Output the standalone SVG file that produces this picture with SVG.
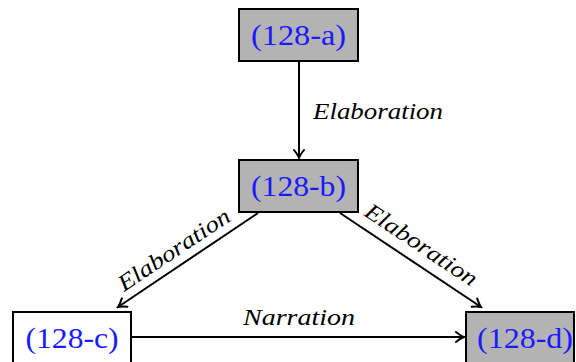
<svg xmlns="http://www.w3.org/2000/svg" width="576" height="362" viewBox="0 0 576 362">
<style>
.box{stroke:#000;stroke-width:2}
.g{fill:#b3b3b3}
.w{fill:#fff}
.nt{font-size:29px;fill:#1a1aff;text-anchor:middle}
.lb{font-style:italic;font-size:23px;fill:#000;text-anchor:middle}
.e{stroke:#000;stroke-width:2;fill:none}
</style>
<defs>
<marker id="ah" viewBox="-10 -6 12 12" refX="0" refY="0" markerWidth="12" markerHeight="12" markerUnits="userSpaceOnUse" orient="auto">
<path d="M-8,-5 Q-3,-1 0,0 Q-3,1 -8,5" fill="none" stroke="#000" stroke-width="2" stroke-linecap="round"/>
</marker>
</defs>
<g font-family="Liberation Serif, DejaVu Serif, serif">
<g id="edges">
<line class="e" x1="299" y1="61" x2="299" y2="158" marker-end="url(#ah)"/>
<line class="e" x1="258" y1="213" x2="118" y2="307" marker-end="url(#ah)"/>
<line class="e" x1="340" y1="213" x2="481" y2="307" marker-end="url(#ah)"/>
<line class="e" x1="131" y1="337" x2="464" y2="337" marker-end="url(#ah)"/>
<text class="lb" x="378" y="119" textLength="130" lengthAdjust="spacingAndGlyphs">Elaboration</text>
<text class="lb" x="299" y="325" textLength="112" lengthAdjust="spacingAndGlyphs">Narration</text>
<text class="lb" transform="translate(178,256) rotate(-33.7)" textLength="130" lengthAdjust="spacingAndGlyphs">Elaboration</text>
<text class="lb" transform="translate(417,251) rotate(33.7)" textLength="130" lengthAdjust="spacingAndGlyphs">Elaboration</text>
</g>
<g id="n128a">
<rect class="box g" x="239" y="9" width="119" height="52"/>
<text class="nt" x="298.5" y="45" textLength="95" lengthAdjust="spacingAndGlyphs">(128-a)</text>
</g>
<g id="n128b">
<rect class="box g" x="239" y="160" width="119" height="52"/>
<text class="nt" x="298.5" y="196" textLength="95" lengthAdjust="spacingAndGlyphs">(128-b)</text>
</g>
<g id="n128c">
<rect class="box w" x="13" y="312" width="118" height="52"/>
<text class="nt" x="72" y="348" textLength="93" lengthAdjust="spacingAndGlyphs">(128-c)</text>
</g>
<g id="n128d">
<rect class="box g" x="466" y="312" width="108" height="52"/>
<text class="nt" x="525" y="348" textLength="96" lengthAdjust="spacingAndGlyphs">(128-d)</text>
</g>
</g>
</svg>
